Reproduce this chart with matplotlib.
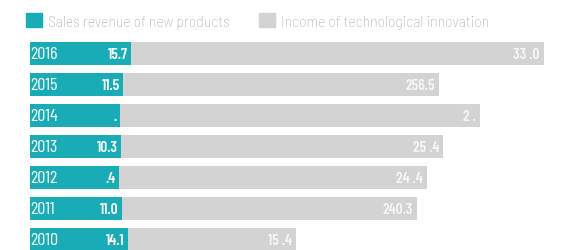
import numpy as np
import matplotlib.pyplot as plt
from matplotlib.patches import Patch

# data (some labels lose digits in the original, kept as shown)
years = ['2010', '2011', '2012', '2013', '2014', '2015', '2016']
sales = np.array([14.1, 11.0, 9.4, 10.3, 9.8, 11.5, 15.7])
sales_lbl = ['14.1', '11.0', '.4', '10.3', '.', '11.5', '15.7']
income = np.array([150.4, 240.3, 247.4, 259.4, 286.7, 256.5, 334.0])
income_lbl = ['15 .4', '240.3', '24 .4', '25 .4', '2 .', '256.5', '33 .0']

TEAL = '#19acb6'
GREY = '#d3d3d3'
COND = ['Barlow Condensed', 'DejaVu Sans']

W, H = 566, 251
fig = plt.figure(figsize=(W / 100, H / 100), dpi=100)

# axes from x=30px to the right edge
ax = fig.add_axes([30 / W, 0, 1 - 30 / W, 1])
ax2 = ax.twiny()

y = np.arange(len(years))
bar_h = 23 / 31
year_box = 72 / 1.85  # teal box holding the year label

# grey series (own scale), drawn behind
ax2.barh(y, income, height=bar_h, color=GREY, zorder=1)
ax2.set_xlim(-63 / 1.35, (W - 30 - 63) / 1.35)
for yi, v, s in zip(y, income, income_lbl):
    ax2.annotate(s, (v, yi), xytext=(-3, -0.5), textcoords='offset points',
                 ha='right', va='center', color='#f6f6f6', fontsize=11,
                 fontweight='semibold', family=COND)

# teal series on top
ax.set_zorder(ax2.get_zorder() + 1)
ax.patch.set_visible(False)
ax.barh(y, sales + year_box, height=bar_h, color=TEAL, zorder=2)
ax.set_xlim(0, (W - 30) / 1.85)
for yi, v, s, yr in zip(y, sales, sales_lbl, years):
    ax.annotate(s, (v + year_box, yi), xytext=(-2.5, -0.5), textcoords='offset points',
                ha='right', va='center', color='white', fontsize=11,
                fontweight='semibold', family=COND)
    ax.annotate(yr, (0, yi), xytext=(0.3, -0.5), textcoords='offset points',
                ha='left', va='center', color='white', fontsize=13,
                fontweight='normal', family=COND)

for a in (ax, ax2):
    a.set_ylim(-11 / 31, (H - 11) / 31)
    a.axis('off')

handles = [Patch(color=TEAL, label='Sales revenue of new products'),
           Patch(color=GREY, label='Income of technological innovation')]
leg = fig.legend(handles=handles, loc='upper left', ncol=2, frameon=False,
                 bbox_to_anchor=(12 / W, 1.0), handlelength=1.0, handleheight=1.0,
                 handletextpad=0.4, columnspacing=1.9,
                 prop={'family': ['Barlow Semi Condensed', 'DejaVu Sans'],
                       'weight': 'light', 'size': 11.3})
for t in leg.get_texts():
    t.set_color('#ababab')

fig.savefig('out.png', dpi=100)
